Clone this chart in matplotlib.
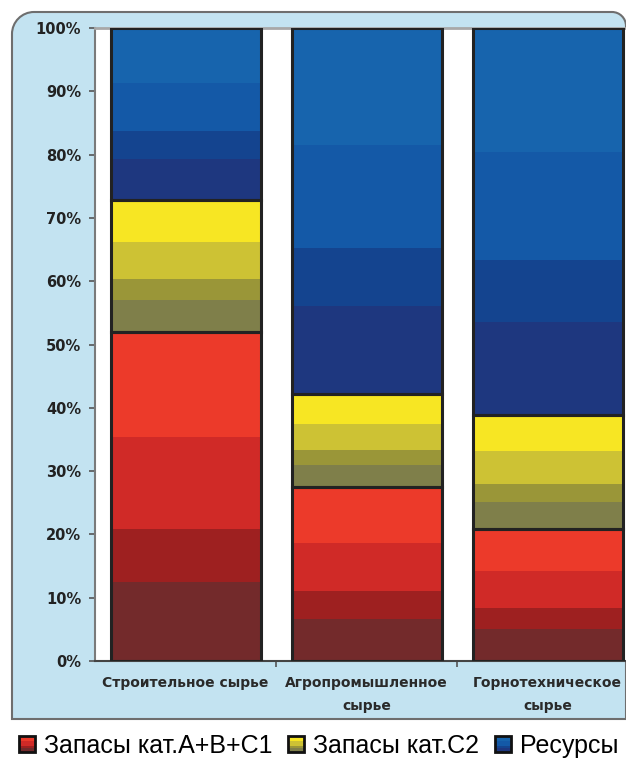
import matplotlib
matplotlib.use("Agg")
import matplotlib.pyplot as plt
from matplotlib.path import Path
from matplotlib.patches import PathPatch, Rectangle
from matplotlib.legend_handler import HandlerBase

# ---------------- data ----------------
categories = ["Строительное сырье", "Агропромышленное\nсырье", "Горнотехническое\nсырье"]
series_names = ["Запасы кат.А+В+С1", "Запасы кат.С2", "Ресурсы"]
reserves_abc1 = [52.0, 27.5, 20.8]
reserves_c2 = [20.8, 14.7, 18.1]
resources = [27.2, 57.8, 61.1]
yticks = [0, 10, 20, 30, 40, 50, 60, 70, 80, 90, 100]
ytick_labels = [f"{v}%" for v in yticks]

# ---------------- style ----------------
band_fracs = [0.0, 0.24, 0.40, 0.68, 1.0]
band_colors = [
    ["#732A2B", "#9E2020", "#D02A27", "#EC3A2A"],
    ["#7F7F4A", "#9A9638", "#CDC234", "#F7E623"],
    ["#1E377F", "#14448F", "#1459A7", "#1764AD"],
]

W, H = 626, 758
fig = plt.figure(figsize=(W / 100, H / 100), dpi=100)

def fx(px):
    return px / W

def fy(py):
    return 1 - py / H

# light-blue panel with rounded corners
L, T, R, B = 12, 12, 626, 719
r1, r2 = 22, 14
k = 0.5523
verts = [
    (L, B), (L, T + r1),
    (L, T + r1 - k * r1), (L + r1 - k * r1, T), (L + r1, T),
    (R - r2, T),
    (R - r2 + k * r2, T), (R, T + r2 - k * r2), (R, T + r2),
    (R, B), (L, B),
]
codes = [Path.MOVETO, Path.LINETO,
         Path.CURVE4, Path.CURVE4, Path.CURVE4,
         Path.LINETO,
         Path.CURVE4, Path.CURVE4, Path.CURVE4,
         Path.LINETO, Path.CLOSEPOLY]
panel = PathPatch(Path([(fx(x), fy(y)) for x, y in verts], codes),
                  transform=fig.transFigure, facecolor="#C3E3F1",
                  edgecolor="#6E6E6E", lw=1.5, zorder=-1)
fig.patches.append(panel)

# axes: 0% at y=661 px, 100% at y=28 px, x-slot 181 px starting at 95 px
ax_left, ax_bottom = fx(95), fy(661)
ax_w = 3 * 181 / W
ax_h = (661 - 28) / H
ax = fig.add_axes([ax_left, ax_bottom, ax_w, ax_h])
ax.set_facecolor("white")
ax.set_xlim(-0.5, 2.5)
ax.set_ylim(0, 100)

x = list(range(len(categories)))
bar_w = 150 / 181
all_series = [reserves_abc1, reserves_c2, resources]
bottoms = [0.0] * len(categories)
for s, vals in enumerate(all_series):
    for b in range(4):
        f0, f1 = band_fracs[b], band_fracs[b + 1]
        ax.bar(x, [v * (f1 - f0) for v in vals], bar_w,
               bottom=[bt + v * f0 for bt, v in zip(bottoms, vals)],
               color=band_colors[s][b], edgecolor="none", lw=0, zorder=2)
    ax.bar(x, vals, bar_w, bottom=bottoms, fill=False,
           edgecolor="#222222", lw=2.2, zorder=3)
    bottoms = [bt + v for bt, v in zip(bottoms, vals)]

# spines & ticks
ax.spines["right"].set_visible(False)
ax.spines["top"].set_color("#A8A8A8")
ax.spines["top"].set_linewidth(2)
ax.spines["left"].set_color("#7A7A7A")
ax.spines["left"].set_linewidth(1.5)
ax.spines["bottom"].set_color("#444444")
ax.spines["bottom"].set_linewidth(1.5)

ax.set_yticks(yticks)
ax.set_yticklabels(ytick_labels, fontsize=10.5, fontweight="bold", color="#222222",
                   family="DejaVu Sans")
ax.tick_params(axis="y", direction="out", length=4, width=1.2, color="#555555", pad=6)

ax.set_xticks(x)
ax.set_xticklabels(categories, fontsize=10, fontweight="bold", color="#2A2A2A",
                   family="DejaVu Sans", linespacing=1.75)
ax.tick_params(axis="x", which="major", length=0, pad=11)
ax.set_xticks([0.5, 1.5], minor=True)
ax.tick_params(axis="x", which="minor", direction="out", length=4, width=1.2,
               color="#555555")

# legend with banded square handles
class BandHandler(HandlerBase):
    def __init__(self, colors):
        super().__init__()
        self.colors = colors

    def create_artists(self, legend, orig_handle, xdescent, ydescent, width,
                       height, fontsize, trans):
        side = min(width, height)
        x0 = -xdescent + (width - side) / 2
        y0 = -ydescent + (height - side) / 2
        arts = []
        for b in range(4):
            f0, f1 = band_fracs[b], band_fracs[b + 1]
            arts.append(Rectangle((x0, y0 + side * f0), side, side * (f1 - f0),
                                  facecolor=self.colors[b], edgecolor="none",
                                  transform=trans))
        arts.append(Rectangle((x0, y0), side, side, fill=False,
                              edgecolor="#111111", lw=2, transform=trans))
        return arts

handles = [Rectangle((0, 0), 1, 1) for _ in series_names]
handler_map = {h: BandHandler(band_colors[i]) for i, h in enumerate(handles)}
fig.legend(handles, series_names, handler_map=handler_map, ncol=3,
           loc="center left", bbox_to_anchor=(fx(19), fy(746)),
           frameon=False, prop={"family": "Liberation Sans", "size": 18},
           handlelength=0.65, handleheight=0.65, handletextpad=0.35,
           columnspacing=0.62, borderpad=0, borderaxespad=0)

fig.savefig("out.png", dpi=100)
